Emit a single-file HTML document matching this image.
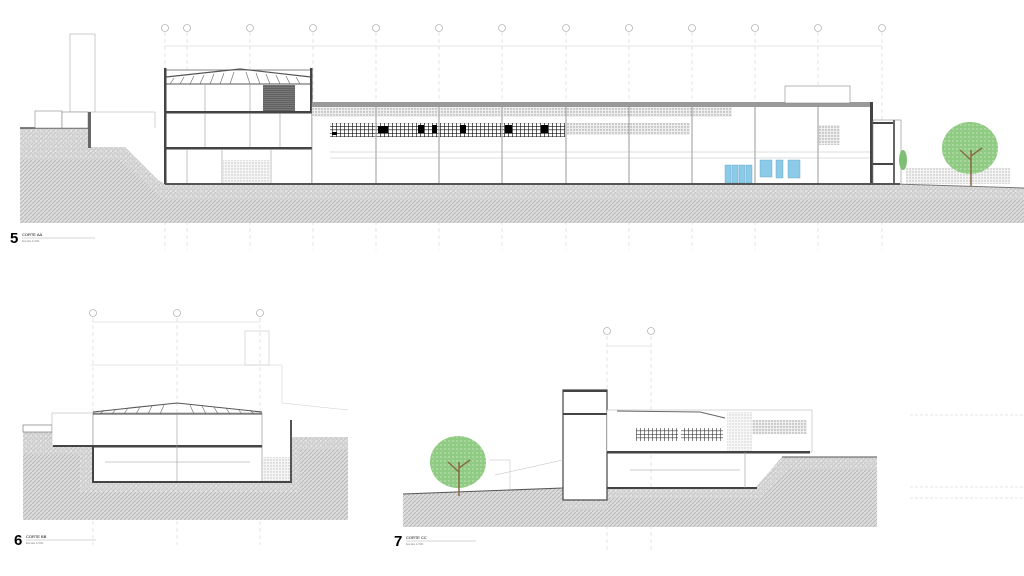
<!DOCTYPE html>
<html><head><meta charset="utf-8"><style>
html,body{margin:0;padding:0;background:#fff;}
svg{display:block;}
text{font-family:"Liberation Sans",sans-serif;}
</style></head><body>
<svg width="1024" height="576" viewBox="0 0 1024 576" xmlns="http://www.w3.org/2000/svg">
<defs>
<pattern id="g" width="4" height="4" patternUnits="userSpaceOnUse">
<rect width="4" height="4" fill="#dcdcdc"/>
<path d="M0 4L4 0" stroke="#b2b2b2" stroke-width="0.8"/>
</pattern>
<pattern id="h" width="3" height="3" patternUnits="userSpaceOnUse">
<rect width="3" height="3" fill="#eee"/>
<circle cx="1" cy="1" r="0.7" fill="#999"/>
</pattern>
<pattern id="s" width="5" height="5" patternUnits="userSpaceOnUse">
<rect width="5" height="5" fill="#d2d2d2"/>
<circle cx="1" cy="1" r="0.9" fill="#fff"/><circle cx="3.5" cy="3" r="0.7" fill="#f4f4f4"/>
</pattern>
<pattern id="w" width="4" height="3.5" patternUnits="userSpaceOnUse">
<rect width="4" height="3.5" fill="#fff"/>
<path d="M0 0H4M0 0V3.5" stroke="#111" stroke-width="1.3"/>
</pattern>
<pattern id="m" width="2" height="2" patternUnits="userSpaceOnUse">
<rect width="2" height="2" fill="#777"/><path d="M0 0H2" stroke="#333" stroke-width="0.6"/>
</pattern>
<pattern id="t" width="4" height="4" patternUnits="userSpaceOnUse">
<rect width="4" height="4" fill="#8fcb82"/><circle cx="1" cy="1" r="0.6" fill="#e6f4e2"/>
</pattern>
</defs>

<!-- ===== SECTION 5 ===== -->
<g stroke="#c8c8c8" stroke-width="0.5" stroke-dasharray="4 3">
<path d="M165 32V250M187 32V250M250 32V250M313 32V250M376 32V250M439 32V250M502 32V250M566 32V250M629 32V250M692 32V250M755 32V250M818 32V250M882 32V250"/>
</g>
<g fill="#fff" stroke="#999" stroke-width="0.6">
<circle cx="165" cy="28" r="3.5"/><circle cx="187" cy="28" r="3.5"/><circle cx="250" cy="28" r="3.5"/><circle cx="313" cy="28" r="3.5"/><circle cx="376" cy="28" r="3.5"/><circle cx="439" cy="28" r="3.5"/><circle cx="502" cy="28" r="3.5"/><circle cx="566" cy="28" r="3.5"/><circle cx="629" cy="28" r="3.5"/><circle cx="692" cy="28" r="3.5"/><circle cx="755" cy="28" r="3.5"/><circle cx="818" cy="28" r="3.5"/><circle cx="882" cy="28" r="3.5"/>
</g>
<path d="M165 46H882" stroke="#ccc" stroke-width="0.5"/>

<path d="M20 128H88V147H125L158 180L165 184H895L1024 188V223H20Z" fill="url(#g)"/>
<path d="M20 128H88V147H125L158 180L165 184H895L1024 188V200H165L158 196L120 160H20Z" fill="url(#s)" opacity="0.6"/>
<path d="M20 128H88" stroke="#555" stroke-width="1.5"/>
<path d="M895 184L1024 188" stroke="#777" stroke-width="1"/>
<rect x="70" y="34" width="25" height="78" fill="#fff" stroke="#aaa" stroke-width="0.6"/>
<rect x="35" y="111" width="27" height="17" fill="#fff" stroke="#888" stroke-width="0.6"/>
<rect x="62" y="112" width="26" height="16" fill="#fff" stroke="#888" stroke-width="0.6"/>
<rect x="88" y="112" width="3" height="36" fill="#666"/>
<path d="M95 112H155M155 112V128" stroke="#aaa" stroke-width="0.5" fill="none"/>

<rect x="165" y="70" width="147" height="114" fill="#fff" stroke="#666" stroke-width="0.8"/>
<path d="M166 77L240 69L311 77" stroke="#555" stroke-width="1.2" fill="none"/>
<path d="M166 84H311" stroke="#555" stroke-width="1"/>
<path d="M170 84L174 78M180 84L184 77M190 84L194 76M200 84L204 75M210 84L214 74M220 84L224 73M230 84L234 72M246 72L250 84M256 73L260 84M266 74L270 84M276 75L280 84M286 76L290 84M296 77L300 84" stroke="#666" stroke-width="0.6"/>
<rect x="263" y="85" width="32" height="27" fill="url(#m)"/>
<rect x="165" y="111" width="147" height="2.5" fill="#444"/>
<rect x="165" y="147" width="715" height="2.5" fill="#444"/>
<rect x="223" y="160" width="47" height="23" fill="url(#h)" opacity="0.6"/>
<path d="M205 85V111M250 85V111M205 113V147M250 113V147M280 113V147M187 149V184M222 149V184M271 149V184" stroke="#999" stroke-width="0.6"/>
<rect x="164" y="68" width="2.5" height="116" fill="#444"/>
<rect x="310" y="68" width="2.5" height="44" fill="#444"/>

<rect x="312" y="103" width="560" height="81" fill="#fff" stroke="#888" stroke-width="0.6"/>
<rect x="312" y="102" width="560" height="5" fill="#999"/>
<rect x="312" y="107" width="420" height="10" fill="url(#h)"/>
<rect x="330" y="123" width="235" height="14" fill="url(#w)"/>
<rect x="378" y="126" width="10" height="7" fill="#000"/><rect x="418" y="125" width="6" height="8" fill="#000"/><rect x="432" y="125" width="5" height="8" fill="#000"/><rect x="460" y="125" width="6" height="8" fill="#000"/><rect x="505" y="125" width="7" height="8" fill="#000"/><rect x="541" y="125" width="7" height="8" fill="#000"/><rect x="332" y="132" width="5" height="3" fill="#000"/>
<rect x="567" y="123" width="123" height="12" fill="url(#h)"/>
<rect x="785" y="86" width="65" height="17" fill="#fff" stroke="#888" stroke-width="0.6"/>
<rect x="818" y="125" width="22" height="20" fill="url(#h)"/>
<path d="M376 107V184M439 107V184M502 107V184M566 107V184M629 107V184M692 107V184M755 107V184M818 107V184" stroke="#aaa" stroke-width="1.2"/>
<path d="M330 158H870M330 152H870" stroke="#bbb" stroke-width="0.5"/>
<g fill="#8ccbe8" stroke="#5a9fc0" stroke-width="0.4">
<rect x="725" y="165" width="6" height="18"/><rect x="732" y="165" width="6" height="18"/><rect x="739" y="165" width="6" height="18"/><rect x="746" y="165" width="6" height="18"/>
<rect x="760" y="160" width="12" height="17"/><rect x="776" y="160" width="7" height="18"/><rect x="788" y="160" width="12" height="18"/>
</g>
<rect x="870" y="102" width="3" height="82" fill="#444"/>
<rect x="873" y="120" width="28" height="64" fill="#fff" stroke="#888" stroke-width="0.6"/>
<rect x="873" y="122" width="22" height="2" fill="#444"/><rect x="873" y="163" width="22" height="2" fill="#444"/>
<rect x="893" y="120" width="2" height="64" fill="#666"/>
<rect x="165" y="183" width="735" height="2" fill="#555"/>
<rect x="906" y="168" width="104" height="16" fill="url(#h)" opacity="0.7"/>
<ellipse cx="903" cy="160" rx="4" ry="10" fill="#7fbf73"/>
<ellipse cx="970" cy="148" rx="28" ry="26" fill="url(#t)"/>
<path d="M971 186V150M971 160L960 150M971 156L982 148" stroke="#8a6a45" stroke-width="1.5" fill="none"/>

<text x="10" y="243" font-size="15" font-weight="bold">5</text>
<text x="22" y="236" font-size="4">CORTE  AA</text>
<text x="22" y="242" font-size="3" fill="#888">Escala 1/100</text>
<path d="M22 238H95" stroke="#aaa" stroke-width="0.5"/>

<!-- ===== SECTION 6 ===== -->
<g stroke="#c8c8c8" stroke-width="0.5" stroke-dasharray="4 3"><path d="M93 318V545M177 318V545M260 318V545"/></g>
<g fill="#fff" stroke="#999" stroke-width="0.6"><circle cx="93" cy="313" r="3.5"/><circle cx="177" cy="313" r="3.5"/><circle cx="260" cy="313" r="3.5"/></g>
<path d="M93 322H260" stroke="#ccc" stroke-width="0.5"/>
<rect x="245" y="331" width="24" height="34" fill="none" stroke="#bbb" stroke-width="0.5"/>
<path d="M91 365H282V403M282 403L348 410" stroke="#ccc" stroke-width="0.5" fill="none"/>
<path d="M23 432H52V446H93V482H292V437H348V520H23Z" fill="url(#g)"/>
<path d="M23 432H52V446H93V482H292V437H348V450H300V492H80V455H23Z" fill="url(#s)" opacity="0.6"/>
<rect x="23" y="425" width="29" height="7" fill="#fff" stroke="#666" stroke-width="0.6"/>
<rect x="52" y="413" width="41" height="33" fill="#fff" stroke="#aaa" stroke-width="0.5"/>
<rect x="93" y="413" width="169" height="69" fill="#fff" stroke="#888" stroke-width="0.6"/>
<path d="M93 412L177 403L262 412" stroke="#555" stroke-width="1.1" fill="none"/>
<path d="M93 414H262" stroke="#444" stroke-width="1"/>
<path d="M100 414L104 410M112 414L116 409M124 414L128 408M136 414L140 407M148 414L152 406M160 414L164 405M190 405L194 414M202 406L206 414M214 407L218 414M226 408L230 414M238 409L242 414M250 410L254 414" stroke="#666" stroke-width="0.6"/>
<rect x="93" y="445" width="169" height="2.5" fill="#444"/>
<rect x="53" y="445" width="40" height="2" fill="#444"/>
<rect x="93" y="481" width="199" height="2" fill="#444"/>
<rect x="92" y="446" width="2" height="37" fill="#444"/>
<rect x="262" y="457" width="30" height="24" fill="url(#h)" opacity="0.6"/>
<rect x="290" y="420" width="2" height="62" fill="#555"/>
<path d="M177 414V481M105 462H250" stroke="#999" stroke-width="0.6"/>
<text x="14" y="545" font-size="15" font-weight="bold">6</text>
<text x="26" y="538" font-size="4">CORTE  BB</text>
<text x="26" y="544" font-size="3" fill="#888">Escala 1/100</text>
<path d="M26 540H96" stroke="#aaa" stroke-width="0.5"/>

<!-- ===== SECTION 7 ===== -->
<g stroke="#c8c8c8" stroke-width="0.5" stroke-dasharray="4 3"><path d="M607 336V550M651 336V550"/></g>
<g fill="#fff" stroke="#999" stroke-width="0.6"><circle cx="607" cy="331" r="3.5"/><circle cx="651" cy="331" r="3.5"/></g>
<path d="M607 346H651" stroke="#ccc" stroke-width="0.5"/>
<path d="M403 494L563 488V500H607V488H755L782 457H877V527H403Z" fill="url(#g)"/>
<path d="M403 494L563 488V510H607V498H760L790 470H877V457H782L755 488H607V500H563V488Z" fill="url(#s)" opacity="0.6"/>
<path d="M403 494L563 488" stroke="#555" stroke-width="1"/>
<path d="M782 457H877" stroke="#555" stroke-width="1"/>
<rect x="563" y="390" width="44" height="110" fill="#fff" stroke="#444" stroke-width="1.2"/>
<rect x="563" y="413" width="44" height="2" fill="#444"/>
<rect x="563" y="390" width="44" height="2" fill="#444"/>
<rect x="607" y="410" width="205" height="42" fill="#fff" stroke="#aaa" stroke-width="0.5"/>
<path d="M617 411L700 412L725 418" stroke="#666" stroke-width="1" fill="none"/>
<rect x="636" y="428" width="42" height="13" fill="url(#w)" opacity="0.8"/>
<rect x="681" y="428" width="42" height="13" fill="url(#w)" opacity="0.8"/>
<rect x="727" y="412" width="25" height="40" fill="url(#h)" opacity="0.5"/>
<rect x="752" y="420" width="55" height="14" fill="url(#h)"/>
<rect x="607" y="451" width="203" height="2.5" fill="#444"/>
<rect x="607" y="487" width="150" height="2" fill="#444"/>
<path d="M745 452V488M630 470H740" stroke="#999" stroke-width="0.6"/>
<path d="M490 460H510V490M495 475L563 460" stroke="#bbb" stroke-width="0.5" fill="none"/>
<ellipse cx="458" cy="462" rx="28" ry="26" fill="url(#t)"/>
<path d="M459 496V462M459 472L448 462M459 468L470 460" stroke="#8a6a45" stroke-width="1.5" fill="none"/>
<text x="394" y="546" font-size="15" font-weight="bold">7</text>
<text x="406" y="539" font-size="4">CORTE  CC</text>
<text x="406" y="545" font-size="3" fill="#888">Escala 1/100</text>
<path d="M406 541H476" stroke="#aaa" stroke-width="0.5"/>
<path d="M910 415H1024M910 487H1024M910 498H1024" stroke="#ccc" stroke-width="0.5" stroke-dasharray="3 2"/>
</svg>
</body></html>
